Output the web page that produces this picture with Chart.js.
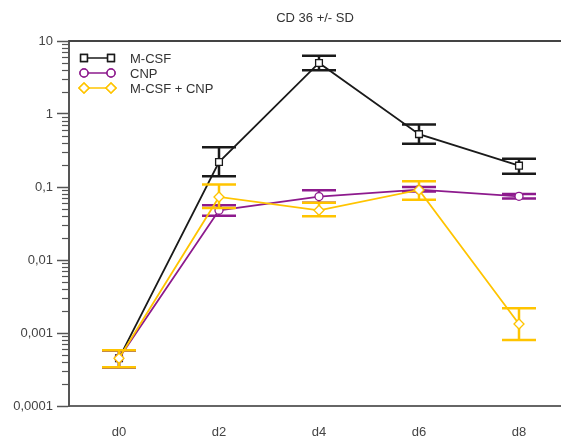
<!DOCTYPE html>
<html>
<head>
<meta charset="utf-8">
<script src="https://cdn.jsdelivr.net/npm/chart.js@4/dist/chart.umd.min.js"></script>
<style>
  html, body { margin: 0; padding: 0; background: #fff; }
  #wrap { width: 561px; height: 437px; position: relative; }
</style>
</head>
<body>
<div id="wrap"><canvas id="c" width="561" height="437"></canvas></div>
<script>
// Sampling days and CD 36 expression (mean with upper/lower SD bounds)
const categories = ['d0', 'd2', 'd4', 'd6', 'd8'];

const mcsfMean = [0.00045, 0.22, 5.0, 0.53, 0.196];
const mcsfHigh = [0.00058, 0.35, 6.3, 0.72, 0.244];
const mcsfLow  = [0.00034, 0.14, 3.98, 0.39, 0.152];

const cnpMean = [0.00045, 0.048, 0.074, 0.092, 0.0746];
const cnpHigh = [0.00058, 0.0562, 0.090, 0.100, 0.0805];
const cnpLow  = [0.00034, 0.0403, 0.061, 0.087, 0.0695];

const comboMean = [0.00045, 0.073, 0.048, 0.091, 0.00133];
const comboHigh = [0.00058, 0.108, 0.061, 0.120, 0.00218];
const comboLow  = [0.00034, 0.0517, 0.0398, 0.067, 0.000805];

const yTickValues = [0.0001, 0.001, 0.01, 0.1, 1, 10];
const yTickLabels = ['0,0001', '0,001', '0,01', '0,1', '1', '10'];

const chartTitle = 'CD 36 +/- SD';

const toPoints = (vals) => vals.map((v, i) => ({ x: i, y: v }));

const FONT = '"Liberation Sans", Arial, Helvetica, sans-serif';
const TEXT = '#444';

// Vertical SD bars with caps, painted under each series' line and markers
const errorBars = {
  id: 'errorBars',
  beforeDatasetDraw(chart, args) {
    const ds = chart.data.datasets[args.index];
    if (!ds.high) return;
    const { ctx, scales: { x, y } } = chart;
    ctx.save();
    ctx.strokeStyle = ds.borderColor;
    ctx.lineWidth = 2.5;
    ds.high.forEach((hi, i) => {
      const px = x.getPixelForValue(i);
      const yh = y.getPixelForValue(hi);
      const yl = y.getPixelForValue(ds.low[i]);
      ctx.beginPath();
      ctx.moveTo(px, yh); ctx.lineTo(px, yl);
      ctx.moveTo(px - 17, yh); ctx.lineTo(px + 17, yh);
      ctx.moveTo(px - 17, yl); ctx.lineTo(px + 17, yl);
      ctx.stroke();
    });
    ctx.restore();
  }
};

// Frame line, minor log ticks, title and in-plot legend
const decorations = {
  id: 'decorations',
  afterDraw(chart) {
    const { ctx, chartArea: a, scales: { y } } = chart;
    ctx.save();
    // top frame line
    ctx.strokeStyle = '#444';
    ctx.lineWidth = 2;
    ctx.beginPath();
    ctx.moveTo(a.left, a.top); ctx.lineTo(a.right, a.top);
    ctx.stroke();
    // minor ticks on the log axis
    ctx.lineWidth = 1.2;
    ctx.strokeStyle = '#555';
    for (let k = -4; k < 1; k++) {
      for (let m = 2; m <= 9; m++) {
        const py = Math.round(y.getPixelForValue(m * Math.pow(10, k))) + 0.5;
        ctx.beginPath();
        ctx.moveTo(a.left - 7, py); ctx.lineTo(a.left, py);
        ctx.stroke();
      }
    }
    // title
    ctx.fillStyle = '#333';
    ctx.font = '13px ' + FONT;
    ctx.textAlign = 'center';
    ctx.textBaseline = 'middle';
    ctx.fillText(chartTitle, (a.left + a.right) / 2, 18);
    // legend
    ctx.textAlign = 'left';
    chart.data.datasets.forEach((ds, i) => {
      const ly = 58 + i * 15;
      ctx.strokeStyle = ds.borderColor;
      ctx.lineWidth = 1.5;
      ctx.beginPath();
      ctx.moveTo(84, ly); ctx.lineTo(111, ly);
      ctx.stroke();
      [84, 111].forEach(px => {
        Chart.helpers.drawPoint(ctx, {
          pointStyle: ds.pointStyle, radius: ds.pointRadius,
          borderWidth: 1.3
        }, px, ly);
        ctx.fillStyle = '#fff';
        ctx.fill();
        ctx.stroke();
      });
      ctx.fillStyle = '#333';
      ctx.fillText(ds.label, 130, ly + 1);
    });
    ctx.restore();
  }
};

const common = {
  fill: false,
  borderWidth: 1.8,
  pointBackgroundColor: '#fff',
  pointBorderWidth: 1.3,
  tension: 0
};

new Chart(document.getElementById('c'), {
  type: 'line',
  data: {
    datasets: [
      Object.assign({}, common, {
        label: 'M-CSF', data: toPoints(mcsfMean), high: mcsfHigh, low: mcsfLow,
        borderColor: '#1a1a1a', pointBorderColor: '#1a1a1a',
        pointStyle: 'rect', pointRadius: 4.8, order: 2
      }),
      Object.assign({}, common, {
        label: 'CNP', data: toPoints(cnpMean), high: cnpHigh, low: cnpLow,
        borderColor: '#8d1a8d', pointBorderColor: '#8d1a8d',
        pointStyle: 'circle', pointRadius: 4, order: 1
      }),
      Object.assign({}, common, {
        label: 'M-CSF + CNP', data: toPoints(comboMean), high: comboHigh, low: comboLow,
        borderColor: '#ffc400', pointBorderColor: '#ffc400',
        pointStyle: 'rectRot', pointRadius: 5, order: 0
      })
    ]
  },
  options: {
    responsive: false,
    animation: false,
    devicePixelRatio: 1,
    layout: { autoPadding: false, padding: { top: 41, right: 0, left: 0, bottom: 0 } },
    plugins: { legend: { display: false }, title: { display: false }, tooltip: { enabled: false } },
    scales: {
      x: {
        type: 'linear', min: -0.5, max: 4.42,
        afterBuildTicks: (s) => { s.ticks = categories.map((c, i) => ({ value: i })); },
        afterFit: (s) => { s.height = 31; s.paddingLeft = 0; s.paddingRight = 0; },
        ticks: {
          callback: (v) => categories[v],
          color: TEXT, font: { family: FONT, size: 13 }, padding: 11, maxRotation: 0
        },
        grid: { display: false },
        border: { display: true, color: '#666', width: 2 }
      },
      y: {
        type: 'logarithmic', min: 0.0001, max: 10,
        afterBuildTicks: (s) => { s.ticks = yTickValues.map(v => ({ value: v })); },
        afterFit: (s) => { s.width = 69; s.paddingTop = 0; s.paddingBottom = 0; },
        ticks: {
          callback: (v, i) => yTickLabels[i],
          color: TEXT, font: { family: FONT, size: 13 }, padding: 4
        },
        grid: { drawOnChartArea: false, drawTicks: true, tickLength: 12, tickWidth: 1.5, tickColor: '#555' },
        border: { display: true, color: '#555', width: 2 }
      }
    }
  },
  plugins: [errorBars, decorations]
});
</script>
</body>
</html>
